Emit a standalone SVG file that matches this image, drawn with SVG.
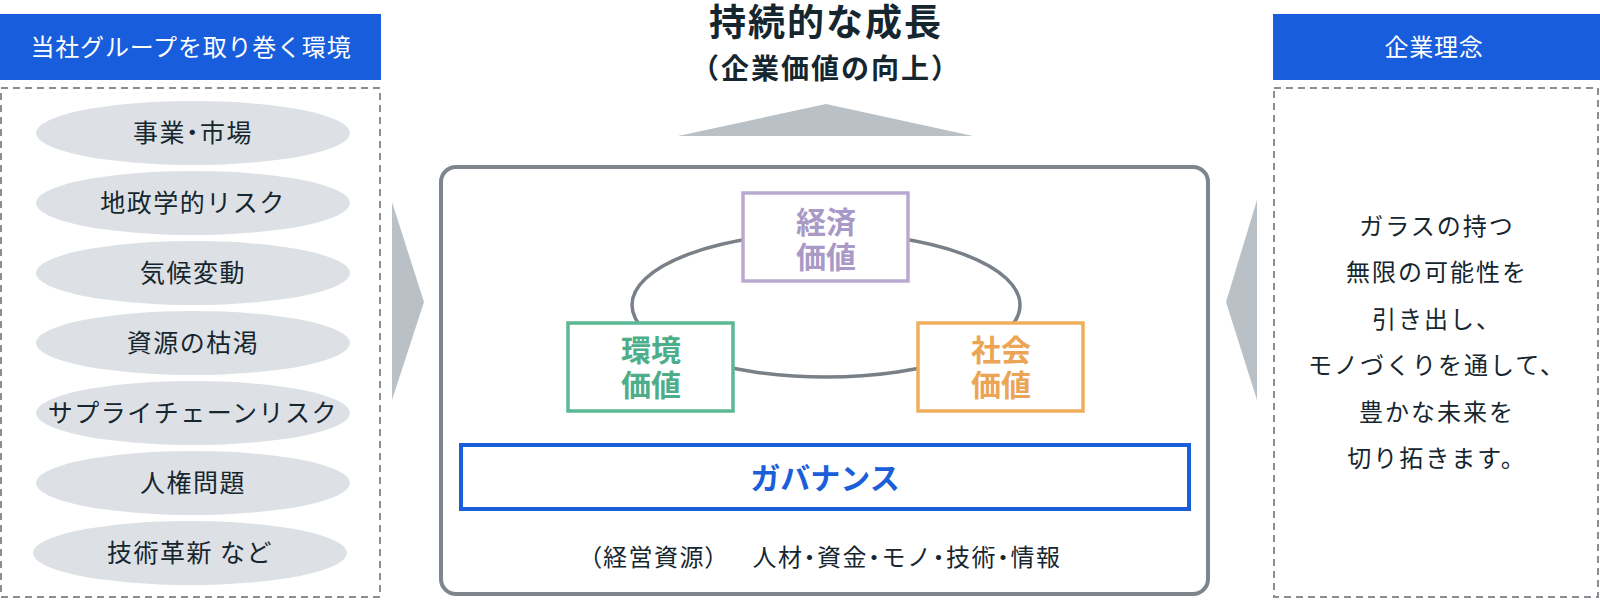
<svg xmlns="http://www.w3.org/2000/svg" width="1600" height="600" viewBox="0 0 1600 600">
<style>
text{font-family:"Noto Sans CJK JP","Noto Sans CJK SC",sans-serif;text-anchor:middle}
.hdr{fill:#175ddc}
.hdrt{fill:#ffffff;font-size:24px;letter-spacing:0.8px}
.dash{fill:none;stroke:#8a8f95;stroke-width:2;stroke-dasharray:7 5}
.ell{fill:#dde1e5}
.et{fill:#16262f;font-size:25px;letter-spacing:1.5px}
.p{font-feature-settings:"palt" 1}
.arr{fill:#b9c1c6}
.rt{fill:#16262f;font-size:24px;letter-spacing:2px}
.vb{fill:#ffffff;stroke-width:3.5}
.vt{font-size:30px;font-weight:bold}
.bt{fill:#16262f;font-size:24px;letter-spacing:1.5px}
</style>
<g id="left-panel">
<rect class="hdr" x="0" y="14" width="381" height="66"/>
<text class="hdrt" x="191" y="56">当社グループを取り巻く環境</text>
<rect class="dash" x="1" y="88" width="379" height="509"/>
</g>
<g id="env-items">
<g id="item1"><ellipse class="ell" cx="193" cy="133" rx="157" ry="32"/><text class="et" x="193" y="142">事業<tspan class="p">・</tspan>市場</text></g>
<g id="item2"><ellipse class="ell" cx="193" cy="203" rx="157" ry="32"/><text class="et" x="193" y="212">地政学的リスク</text></g>
<g id="item3"><ellipse class="ell" cx="193" cy="273" rx="157" ry="32"/><text class="et" x="193" y="282">気候変動</text></g>
<g id="item4"><ellipse class="ell" cx="193" cy="343" rx="157" ry="32"/><text class="et" x="193" y="352">資源の枯渇</text></g>
<g id="item5"><ellipse class="ell" cx="193" cy="413" rx="157" ry="32"/><text class="et" x="193" y="422">サプライチェーンリスク</text></g>
<g id="item6"><ellipse class="ell" cx="193" cy="483" rx="157" ry="32"/><text class="et" x="193" y="492">人権問題</text></g>
<g id="item7"><ellipse class="ell" cx="190" cy="553" rx="157" ry="32"/><text class="et" x="190" y="562">技術革新 など</text></g>
</g>
<g id="arrows">
<polygon class="arr" points="392,202 424,302 392,400"/>
<polygon class="arr" points="1257,200 1226,302 1257,400"/>
<polygon class="arr" points="678,136 826,104 973,136"/>
</g>
<g id="title">
<text x="826" y="36" style="fill:#16262f;font-size:37px;font-weight:bold;letter-spacing:2px">持続的な成長</text>
<text x="826" y="79" style="fill:#16262f;font-size:28px;font-weight:bold;letter-spacing:2px">（企業価値の向上）</text>
</g>
<g id="center-box">
<rect x="441" y="167" width="767" height="427" rx="15" fill="#ffffff" stroke="#7e858c" stroke-width="4"/>
</g>
<g id="connectors">
<ellipse cx="826" cy="305" rx="194" ry="72" fill="none" stroke="#7a8088" stroke-width="3.5"/>
</g>
<g id="economic">
<rect class="vb" x="743" y="193" width="165" height="88" stroke="#b9a9d0"/>
<text class="vt" fill="#a999c6"><tspan x="826" y="233">経済</tspan><tspan x="826" y="268">価値</tspan></text>
</g>
<g id="environmental">
<rect class="vb" x="568" y="323" width="165" height="88" stroke="#5cb894"/>
<text class="vt" fill="#4fae8a"><tspan x="651" y="361">環境</tspan><tspan x="651" y="396">価値</tspan></text>
</g>
<g id="social">
<rect class="vb" x="918" y="323" width="165" height="88" stroke="#efae5c"/>
<text class="vt" fill="#eba554"><tspan x="1001" y="361">社会</tspan><tspan x="1001" y="396">価値</tspan></text>
</g>
<g id="governance">
<rect x="461" y="445" width="728" height="64" fill="#ffffff" stroke="#1a5fd9" stroke-width="4"/>
<text x="825" y="489" style="fill:#1a5fd9;font-size:30px;font-weight:bold">ガバナンス</text>
</g>
<g id="resources">
<text class="bt" x="654" y="566"><tspan class="p">（</tspan>経営資源<tspan class="p">）</tspan></text>
<text class="bt" x="907" y="566">人材<tspan class="p">・</tspan>資金<tspan class="p">・</tspan>モノ<tspan class="p">・</tspan>技術<tspan class="p">・</tspan>情報</text>
</g>
<g id="right-panel">
<rect class="hdr" x="1273" y="14" width="327" height="66"/>
<text class="hdrt" x="1434" y="56">企業理念</text>
<rect class="dash" x="1274" y="88" width="324" height="509"/>
<text class="rt" x="1437" y="235">ガラスの持つ</text>
<text class="rt" x="1437" y="281">無限の可能性を</text>
<text class="rt" x="1437" y="328">引き出し、</text>
<text class="rt" x="1437" y="374">モノづくりを通して、</text>
<text class="rt" x="1437" y="421">豊かな未来を</text>
<text class="rt" x="1437" y="467">切り拓きます。</text>
</g>
</svg>
